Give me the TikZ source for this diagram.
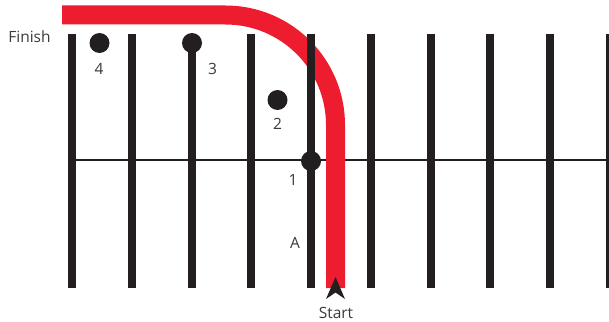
\documentclass[tikz,border=0pt]{standalone}
\usepackage{fontspec}
\setmainfont{Open Sans}
\definecolor{barblack}{HTML}{231F20}
\definecolor{pathred}{HTML}{ED1C2E}
\definecolor{txt}{HTML}{3A3A3A}
\begin{document}
\begin{tikzpicture}[x=1pt,y=-1pt,
  bar/.style={line width=8pt, barblack},
  dot/.style={circle, fill=barblack, minimum size=20pt, inner sep=0pt},
  lbl/.style={font=\fontsize{15.5}{18}\selectfont, text=txt, inner sep=0pt}]
\useasboundingbox (0,0) rectangle (609,321);
% horizontal line
\coordinate (hl) at (72,160);
\coordinate (hr) at (609,160);
\draw[barblack, line width=2.5pt] (hl) -- (hr);
% red path
\coordinate (finishpt) at (62,15);
\coordinate (corner) at (335.5,15);
\coordinate (startpt) at (335.5,288);
\draw[pathred, line width=19pt, rounded corners=110pt] (finishpt) -- (corner) -- (startpt);
% bars
\foreach \i in {0,...,9} {
  \coordinate (bt\i) at (72+59.75*\i,34);
  \coordinate (bb\i) at (72+59.75*\i,288);
  \draw[bar] (bt\i) -- (bb\i);
}
% dots
\node[dot] (d1) at (311,161) {};
\node[dot] (d2) at (277.5,100) {};
\node[dot] (d3) at (192,43) {};
\node[dot] (d4) at (99.5,43) {};
% arrowhead
\fill[barblack] (335.5,277) -- (345,299) -- (335.5,292.5) -- (326,299) -- cycle;
% labels
\node[lbl] (l1) at (293,180) {1};
\node[lbl] (l2) at (277.5,123.5) {2};
\node[lbl] (l3) at (212.5,68.5) {3};
\node[lbl] (l4) at (99,68.5) {4};
\node[lbl] (la) at (295,242.5) {A};
\node[lbl] (ls) at (336,313) {Start};
\node[lbl] (lf) at (29.5,37) {Finish};
\end{tikzpicture}
\end{document}
